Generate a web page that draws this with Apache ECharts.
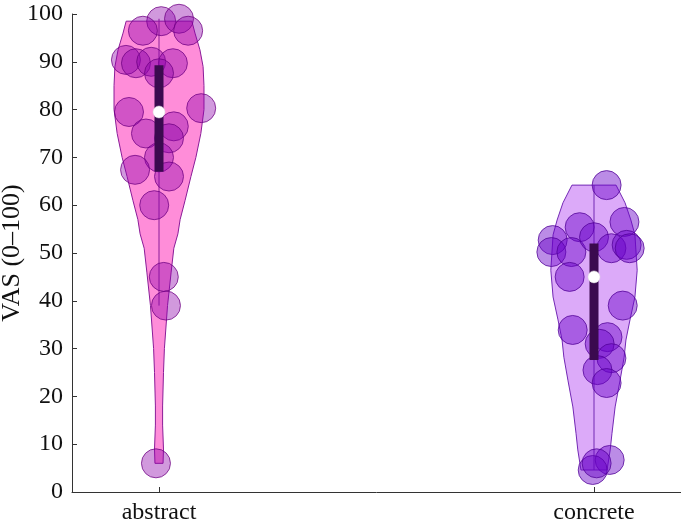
<!DOCTYPE html>
<html>
<head>
<meta charset="utf-8">
<script src="https://cdn.jsdelivr.net/npm/echarts@6/dist/echarts.min.js"></script>
<style>
    html, body {margin: 0; padding: 0; background: #fff;}
    #main {width: 681px; height: 528px;}
</style>
</head>
<body>
<div id="main"></div>
<script>
// 两组：abstract / concrete
var categories = ['abstract', 'concrete'];
var yTicks = [0, 10, 20, 30, 40, 50, 60, 70, 80, 90, 100];

// 散点（VAS 值 + 横向抖动）
var abstractValues = [98.5, 99, 96.5, 96.5, 90.4, 89.7, 90, 89.7, 87.6, 79.5, 80.3,
    76.5, 75, 74, 70, 67.4, 66, 60, 45, 39, 6];
var abstractJitter = [0.005, 0.046, -0.037, 0.067, -0.076, -0.053, -0.018, 0.032, 0, -0.069, 0.097,
    0.034, -0.030, 0.023, 0, -0.055, 0.023, -0.011, 0.011, 0.016, -0.007];
var concreteValues = [64.2, 55.4, 56.5, 52.7, 50.2, 50.2, 53.3, 51, 51.7, 51, 45,
    39, 33.9, 32.4, 31, 28, 25.5, 22.8, 6.7, 4.6, 6];
var concreteJitter = [0.029, -0.033, 0.070, -0.095, -0.098, -0.052, 0, 0.040, 0.075, 0.082, -0.056,
    0.066, -0.049, 0.031, 0.013, 0.040, 0.008, 0.029, 0.036, -0.003, 0.006];

// 小提琴轮廓（取值层级 + 相对宽度）
var abstractLevels = [98.5, 96, 92.5, 89, 85, 80, 75, 70, 66, 61, 57, 54, 51, 46, 39, 30, 25, 18, 14, 9, 6];
var abstractWidths = [0.73, 0.80, 0.91, 0.98, 1, 1, 0.93, 0.82, 0.71, 0.58, 0.47, 0.42, 0.33, 0.27, 0.19, 0.12, 0.10, 0.08, 0.08, 0.10, 0.09];
var concreteLevels = [64.2, 60.5, 56.9, 53.8, 46.4, 40.8, 36, 31.8, 28.2, 23.4, 17.8, 12.3, 8.8, 4.6];
var concreteWidths = [0.49, 0.69, 0.82, 0.91, 0.96, 0.91, 0.80, 0.71, 0.67, 0.58, 0.47, 0.40, 0.36, 0.29];

// 箱体 / 须 / 中位数
var medians = [79.5, 45];
var q1 = [67, 27.6];
var q3 = [89.3, 52];
var whiskerLow = [39, 4.6];
var whiskerHigh = [99, 64.2];

var violinFill = ['#ff8dd9', '#dcaaf9'];
var violinEdge = ['#8a1c98', '#7228b4'];
var dotFill = ['rgba(140,0,170,0.4)', 'rgba(105,0,200,0.45)'];
var dotEdge = ['rgba(110,0,130,0.75)', 'rgba(80,0,150,0.75)'];
var halfW = 0.1034;

var myChart = echarts.init(document.getElementById('main'));

var profiles = [
    {levels: abstractLevels, widths: abstractWidths},
    {levels: concreteLevels, widths: concreteWidths}
];

function violinItem(params, api) {
    var k = params.dataIndex;
    var c = k + 1;
    var p = profiles[k];
    var left = [], right = [];
    for (var i = 0; i < p.levels.length; i++) {
        left.push(api.coord([c - p.widths[i] * halfW, p.levels[i]]));
        right.unshift(api.coord([c + p.widths[i] * halfW, p.levels[i]]));
    }
    return {
        type: 'polygon',
        shape: {points: left.concat(right)},
        style: {fill: violinFill[k], stroke: violinEdge[k], lineWidth: 1}
    };
}

function whiskerItem(params, api) {
    var k = params.dataIndex;
    var a = api.coord([k + 1, whiskerLow[k]]);
    var b = api.coord([k + 1, whiskerHigh[k]]);
    return {
        type: 'line',
        shape: {x1: a[0], y1: a[1], x2: b[0], y2: b[1]},
        style: {stroke: violinEdge[k], lineWidth: 1}
    };
}

function boxItem(params, api) {
    var k = params.dataIndex;
    var top = api.coord([k + 1, q3[k]]);
    var bot = api.coord([k + 1, q1[k]]);
    return {
        type: 'rect',
        shape: {x: top[0] - 4.5, y: top[1], width: 9, height: bot[1] - top[1]},
        style: {fill: '#3b0a4f'}
    };
}

function dots(values, jitter, k) {
    var out = [];
    for (var i = 0; i < values.length; i++) {
        out.push([k + 1 + jitter[i], values[i]]);
    }
    return out;
}

var option = {
    animation: false,
    grid: {left: 72, right: 0, top: 14, bottom: 36, outerBoundsMode: 'none', containLabel: false},
    xAxis: {
        type: 'value',
        min: 0.8,
        max: 2.2,
        axisLine: {lineStyle: {color: '#333', width: 1}},
        axisTick: {inside: true, length: 5, customValues: [1, 2], lineStyle: {color: '#333'}},
        axisLabel: {
            customValues: [1, 2],
            formatter: function (v) { return categories[Math.round(v) - 1]; },
            color: '#111', fontFamily: 'Liberation Serif', fontSize: 24, margin: 9
        },
        splitLine: {show: false}
    },
    yAxis: {
        type: 'value',
        min: 0,
        max: 100,
        interval: 10,
        name: 'VAS (0\u2013100)',
        nameLocation: 'middle',
        nameGap: 47,
        nameMoveOverlap: false,
        nameTextStyle: {color: '#111', fontFamily: 'Liberation Serif', fontSize: 26},
        axisLine: {show: true, lineStyle: {color: '#333', width: 1}},
        axisTick: {show: true, inside: true, length: 5, lineStyle: {color: '#333'}},
        axisLabel: {
            color: '#111', fontFamily: 'Liberation Serif', fontSize: 24, margin: 9,
            formatter: function (v) { return yTicks.indexOf(v) >= 0 ? String(v) : ''; }
        },
        splitLine: {show: false}
    },
    series: [
        {type: 'custom', renderItem: violinItem, data: [[0], [1]], z: 1, silent: true},
        {type: 'custom', renderItem: whiskerItem, data: [[0], [1]], z: 2, silent: true},
        {
            type: 'scatter', symbolSize: 29, z: 3,
            data: dots(abstractValues, abstractJitter, 0),
            itemStyle: {color: dotFill[0], borderColor: dotEdge[0], borderWidth: 1, opacity: 1}
        },
        {
            type: 'scatter', symbolSize: 29, z: 3,
            data: dots(concreteValues, concreteJitter, 1),
            itemStyle: {color: dotFill[1], borderColor: dotEdge[1], borderWidth: 1, opacity: 1}
        },
        {type: 'custom', renderItem: boxItem, data: [[0], [1]], z: 4, silent: true},
        {
            type: 'scatter', symbolSize: 12, z: 5,
            data: [[1, medians[0]], [2, medians[1]]],
            itemStyle: {color: '#fff', borderColor: '#ddd', borderWidth: 0.5, opacity: 1}
        }
    ]
};

myChart.setOption(option);
window.addEventListener('resize', function () {
    myChart.resize();
});
</script>
</body>
</html>
